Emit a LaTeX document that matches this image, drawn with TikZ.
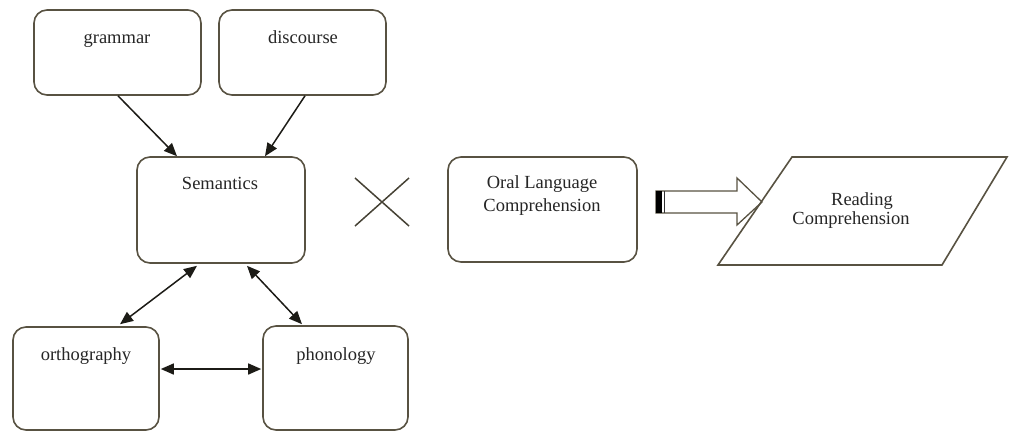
\documentclass[tikz,border=0pt]{standalone}
\usepackage{fontspec}
\setmainfont{Liberation Serif}
\usetikzlibrary{arrows.meta}
\definecolor{edge}{RGB}{88,82,66}
\definecolor{ink}{RGB}{28,27,22}
\begin{document}
\begin{tikzpicture}[x=1pt,y=-1pt,
  box/.style={draw=edge, line width=1.6pt, rounded corners=13pt, fill=white, inner sep=0pt},
  lbl/.style={anchor=base, inner sep=0pt, font=\fontsize{18.5}{22}\selectfont, text=black!85},
  link/.style={draw=ink, line width=1.5pt, -{Triangle[length=13pt,width=11pt]}},
  both/.style={draw=ink, line width=1.5pt, {Triangle[length=13pt,width=11pt]}-{Triangle[length=13pt,width=11pt]}}]
\useasboundingbox (0,0) rectangle (1012,432);

% concept boxes
\node[box, minimum width=167pt, minimum height=85pt]  (grammar)   at (117.5,52.5) {};
\node[box, minimum width=167pt, minimum height=85pt]  (discourse) at (302.5,52.5) {};
\node[box, minimum width=168pt, minimum height=106pt] (semantics) at (221,210) {};
\node[box, minimum width=189pt, minimum height=105pt] (oral)      at (542.5,209.5) {};
\node[box, minimum width=146pt, minimum height=103pt] (ortho)     at (86,378.5) {};
\node[box, minimum width=145pt, minimum height=104pt] (phon)      at (335.5,378) {};

% box captions
\node[lbl] (tgrammar) at (117,43)  {grammar};
\node[lbl] (tdisc)    at (303,43)  {discourse};
\node[lbl] (tsem)     at (220,189) {Semantics};
\node[lbl] (toral1)   at (542,188) {Oral Language};
\node[lbl] (toral2)   at (542,211) {Comprehension};
\node[lbl] (tortho)   at (86,360)  {orthography};
\node[lbl] (tphon)    at (336,360) {phonology};

% connectors
\draw[link] ([xshift=0.5pt]grammar.south) -- ([xshift=-44pt]semantics.north);
\draw[link] ([xshift=2.5pt]discourse.south) -- ([xshift=44pt]semantics.north);
\draw[both] ([xshift=-24pt,yshift=-2pt]semantics.south) -- ([xshift=34pt,yshift=2pt]ortho.north);
\draw[both] ([xshift=26pt,yshift=-2pt]semantics.south) -- ([xshift=-33.5pt,yshift=1pt]phon.north);
\draw[both] ([xshift=1pt,yshift=9.5pt]ortho.east) -- ([xshift=-1pt,yshift=9pt]phon.west);

% multiplication sign
\draw[edge!80!black, line width=1.5pt] (355,178) -- (409,226) (355,226) -- (409,178);

% block arrow into the outcome
\coordinate (arrtail) at (656,202);
\coordinate (arrtip) at (762,202);
\draw[edge, line width=1.3pt, fill=white, line join=miter]
  (arrtail |- 0,191) -- (737,191) -- (737,178) -- (arrtip) -- (737,225) -- (737,213) -- (arrtail |- 0,213) -- cycle;
\fill[black] (656,191) rectangle (661.5,213);
\draw[black!80, line width=1.4pt] (664.5,191) -- (664.5,213);

% outcome parallelogram
\coordinate (ptl) at (792,157);
\coordinate (ptr) at (1007,157);
\coordinate (pbr) at (942,265);
\coordinate (pbl) at (718,265);
\draw[edge, line width=1.6pt, line join=miter] (ptl) -- (ptr) -- (pbr) -- (pbl) -- cycle;
\node[lbl] (tread1) at (862,205) {Reading};
\node[lbl] (tread2) at (851,224) {Comprehension};
\end{tikzpicture}
\end{document}
